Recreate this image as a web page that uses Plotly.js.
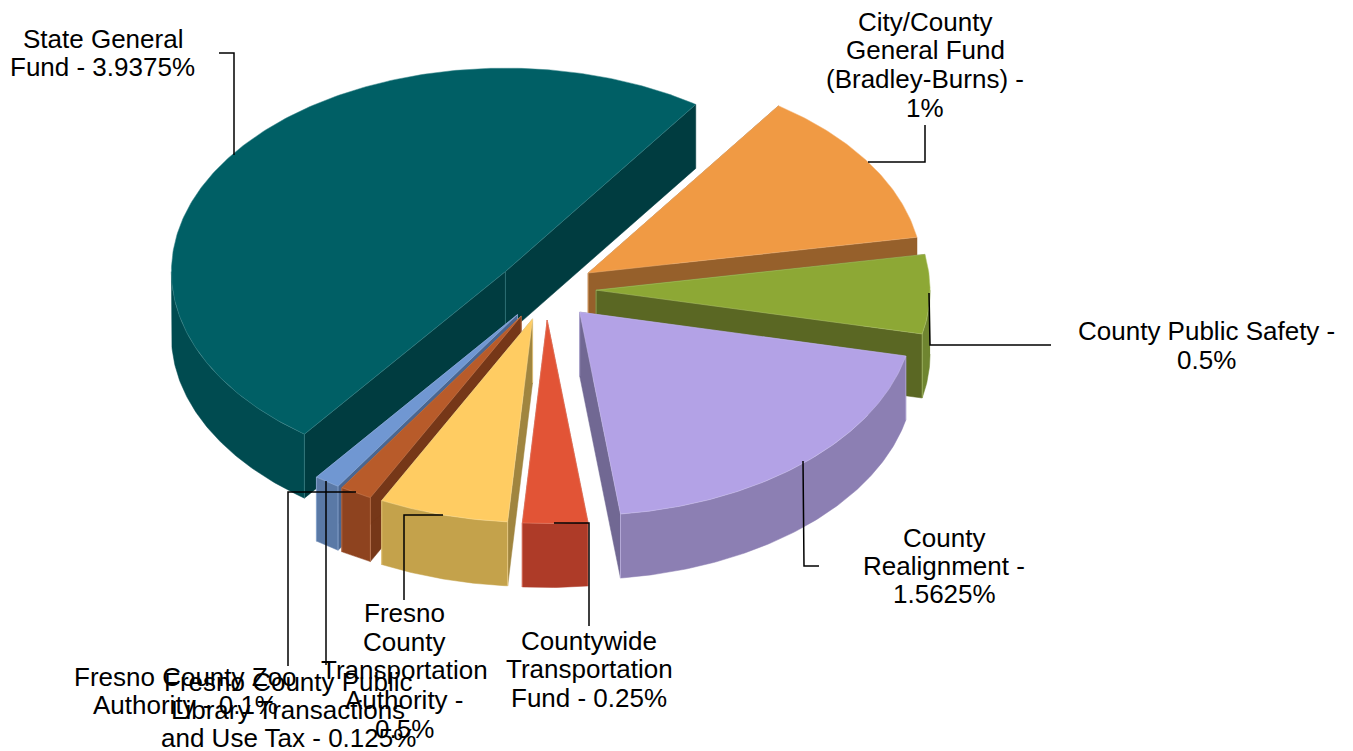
<!DOCTYPE html>
<html>
<head>
<meta charset="utf-8">
<script src="https://cdn.plot.ly/plotly-3.0.1.min.js"></script>
<style>html,body{margin:0;padding:0;background:#fff}#chart{width:1353px;height:751px}</style>
</head>
<body>
<div id="chart"></div>
<script>
// ---- data, in the drawing order of the pie (clockwise from the State slice) ----
const categories = ["State General Fund","City/County General Fund (Bradley-Burns)","County Public Safety","County Realignment","Countywide Transportation Fund","Fresno County Transportation Authority","Fresno County Public Library Transactions and Use Tax","Fresno County Zoo Authority"];
const rates = [3.9375, 1, 0.5, 1.5625, 0.25, 0.5, 0.125, 0.1];

// ---- styles ----
const topColors  = ["#005F65","#F09A44","#8DA835","#B3A2E6","#E25436","#FFCC62","#B85B2A","#7097D2"];
const wallColors = ["#004B50","#96602B","#6F8530","#8C7FB3","#AE3B28","#C4A24B","#8E431F","#5A79A6"];
const faceColors = ["#003C40","#96602B","#5A6723","#716893","#AE3B28","#A0853F","#763718","#4A6792"];
const edgeColors = ["#3F8A8F","#F5B77A","#B4C873","#CFC4F0","#EE8A73","#FFE09A","#D58A60","#A3BFE6"];
const paintOrder = [0,1,2,3,7,6,5,4];

// ---- pie geometry (axis units) ----
const centre = {x:546, y:289.5}, radius = {x:334, y:203.5};
const depth = 64, explode = 0.15, startAngle = 217;

// ---- labels: one entry per text line ----
const labelLines = [
  ["State General",103,39],["Fund - 3.9375%",102,67],
  ["City/County",925,22],["General Fund",925,50],["(Bradley-Burns) -",925,79],["1%",925,108],
  ["County Public Safety -",1206,331],["0.5%",1206,360],
  ["County",944,538],["Realignment -",944,566],["1.5625%",944,594],
  ["Countywide",589,641],["Transportation",589,669],["Fund - 0.25%",589,698],
  ["Fresno",404,613],["County",404,642],["Transportation",404,670],["Authority -",404,700],["0.5%",404,729],
  ["Fresno County Public",288,682],["Library Transactions",288,710],["and Use Tax - 0.125%",288,738],
  ["Fresno County Zoo",185,677],["Authority - 0.1%",185,705]
];
const leaders = [
  [[234,234,219],[155,53,53]],
  [[868,925,925],[162,162,125]],
  [[929,930,1051],[293,345,345]],
  [[803,804,819],[461,566,566]],
  [[554,589,589],[523,523,626]],
  [[443,404,404],[515,515,600]],
  [[326,326],[481,665]],
  [[356,288,288],[492,492,666]]
];

const total = rates.reduce((a,b)=>a+b,0);
const rad = d => d*Math.PI/180;
const traces = [];
function poly(xs, ys, fill, line, w){
  traces.push({type:'scatter',mode:'lines',x:xs,y:ys,fill:'toself',fillcolor:fill,
    line:{color:line,width:w},hoverinfo:'skip',showlegend:false});
}
function seam(xs, ys, color){
  traces.push({type:'scatter',mode:'lines',x:xs,y:ys,line:{color:color,width:0.6},hoverinfo:'skip',showlegend:false});
}
const slices = [];
let running = startAngle;
rates.forEach((v,i)=>{
  const sweep = v/total*360;
  const wrap = running>=360 ? 360 : 0;
  slices.push({i:i,a0:running-wrap,a1:running+sweep-wrap});
  running += sweep;
});
paintOrder.forEach(idx=>{
  const s = slices[idx], mid = (s.a0+s.a1)/2;
  const ax = centre.x + explode*radius.x*Math.sin(rad(mid));
  const ay = centre.y - explode*radius.y*Math.cos(rad(mid));
  const pt = a => [ax+radius.x*Math.sin(rad(a)), ay-radius.y*Math.cos(rad(a))];
  const arc = [];
  const n = Math.max(4,Math.ceil((s.a1-s.a0)*1.5));
  for(let k=0;k<=n;k++) arc.push(pt(s.a0+(s.a1-s.a0)*k/n));
  const p0 = arc[0], p1 = arc[arc.length-1];
  // radial faces
  poly([ax,p0[0],p0[0],ax,ax],[ay,p0[1],p0[1]+depth,ay+depth,ay],faceColors[idx],faceColors[idx],0.5);
  poly([ax,p1[0],p1[0],ax,ax],[ay,p1[1],p1[1]+depth,ay+depth,ay],faceColors[idx],faceColors[idx],0.5);
  seam([ax,ax],[ay,ay+depth],edgeColors[idx]);
  // outer wall: only the part of the rim that faces the viewer (90 to 270 degrees)
  const lo = Math.max(s.a0,90), hi = Math.min(s.a1,270);
  if(hi>lo){
    const front = [];
    const m = Math.max(4,Math.ceil((hi-lo)*1.5));
    for(let k=0;k<=m;k++) front.push(pt(lo+(hi-lo)*k/m));
    const wx = front.map(p=>p[0]).concat(front.slice().reverse().map(p=>p[0]));
    const wy = front.map(p=>p[1]).concat(front.slice().reverse().map(p=>p[1]+depth));
    poly(wx,wy,wallColors[idx],wallColors[idx],0.5);
    if(s.a0>=90) seam([p0[0],p0[0]],[p0[1],p0[1]+depth],edgeColors[idx]);
    if(s.a1<=270) seam([p1[0],p1[0]],[p1[1],p1[1]+depth],edgeColors[idx]);
  }
  // top
  const tx = [ax].concat(arc.map(p=>p[0]),[ax]);
  const ty = [ay].concat(arc.map(p=>p[1]),[ay]);
  poly(tx,ty,topColors[idx],edgeColors[idx],0.5);
});
leaders.forEach(l=>{
  traces.push({type:'scatter',mode:'lines',x:l[0],y:l[1],line:{color:'#000',width:1.5},hoverinfo:'skip',showlegend:false});
});
const annotations = labelLines.map(l=>({
  x:l[1],y:l[2],xref:'x',yref:'y',text:l[0],showarrow:false,xanchor:'center',yanchor:'middle',
  font:{family:'"Liberation Sans",Arial,sans-serif',size:26,color:'#000'}
}));
Plotly.newPlot('chart',traces,{
  width:1353,height:751,margin:{l:0,r:0,t:0,b:0},
  paper_bgcolor:'#fff',plot_bgcolor:'#fff',showlegend:false,
  xaxis:{range:[0,1353],visible:false,fixedrange:true},
  yaxis:{range:[751,0],visible:false,fixedrange:true},
  annotations:annotations
},{displayModeBar:false,staticPlot:true});
</script>
</body>
</html>
